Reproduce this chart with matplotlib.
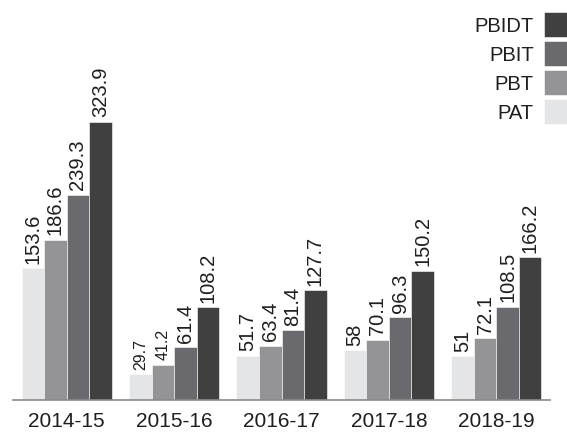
import matplotlib.pyplot as plt
import numpy as np

plt.rcParams['font.family'] = ['Liberation Sans', 'DejaVu Sans']

years = ["2014-15", "2015-16", "2016-17", "2017-18", "2018-19"]
pat = [153.6, 29.7, 51.7, 58, 51]
pbt = [186.6, 41.2, 63.4, 70.1, 72.1]
pbit = [239.3, 61.4, 81.4, 96.3, 108.5]
pbidt = [323.9, 108.2, 127.7, 150.2, 166.2]

series = [("PAT", pat, "#e4e5e7"),
          ("PBT", pbt, "#949497"),
          ("PBIT", pbit, "#6a6a6e"),
          ("PBIDT", pbidt, "#404040")]

fig = plt.figure(figsize=(5.67, 4.39), dpi=100)
ax = fig.add_axes([13 / 567, 38 / 439, 537 / 567, 401 / 439])

x = np.arange(len(years))
w = 0.21
text_color = "#1e1e1e"

handles = []
for i, (name, vals, color) in enumerate(series):
    bars = ax.bar(x + (i - 1.5) * w, vals, w, color=color, label=name,
                  edgecolor="white", linewidth=0.4)
    handles.append(bars)
    labels = ax.bar_label(bars, labels=[f"{v:g}" for v in vals], rotation=90,
                          padding=4, fontsize=14.5, color=text_color)
    # the two smallest labels are printed smaller in the original
    for lab, v in zip(labels, vals):
        if v < 50:
            lab.set_fontsize(11.5)

ax.set_xlim(-0.5, 4.5)
ax.set_ylim(0, 467)
ax.set_xticks(x)
ax.set_xticklabels(years, fontsize=15, color=text_color)
ax.tick_params(axis="x", length=0, pad=8)
ax.set_yticks([])
for s in ["top", "left", "right"]:
    ax.spines[s].set_visible(False)
ax.spines["bottom"].set_color("#8a8a8a")
ax.spines["bottom"].set_linewidth(1.2)

leg = fig.legend(handles[::-1], [s[0] for s in series][::-1],
                 loc="upper right", bbox_to_anchor=(1.0, 0.97),
                 frameon=False, markerfirst=False, fontsize=14.5,
                 handlelength=1.15, handleheight=1.5, handletextpad=0.5,
                 labelspacing=0.22, borderpad=0, borderaxespad=0)
for t in leg.get_texts():
    t.set_color(text_color)

fig.savefig("out.png", dpi=100)
